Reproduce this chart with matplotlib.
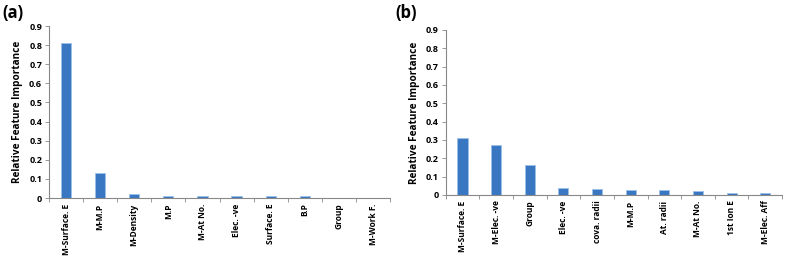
import matplotlib

matplotlib.use("Agg")

import matplotlib.pyplot as plt
import numpy as np

features_a = ["M-Surface. E", "M-M.P", "M-Density", "M.P", "M-At No.",
              "Elec. -ve", "Surface. E", "B.P", "Group", "M-Work F."]
importance_a = [0.81, 0.13, 0.02, 0.01, 0.01, 0.01, 0.01, 0.01, 0.002, 0.002]

features_b = ["M-Surface. E", "M-Elec. -ve", "Group", "Elec. -ve", "cova. radii",
              "M-M.P", "At. radii", "M-At No.", "1st Ion E", "M-Elec. Aff"]
importance_b = [0.31, 0.273, 0.162, 0.04, 0.03, 0.027, 0.027, 0.02, 0.013, 0.01]

yticks = [0, 0.1, 0.2, 0.3, 0.4, 0.5, 0.6, 0.7, 0.8, 0.9]

plt.rcParams["font.family"] = ["Open Sans", "DejaVu Sans"]
plt.rcParams["font.weight"] = "bold"

fig = plt.figure(figsize=(7.86, 2.63), dpi=100)
ax_a = fig.add_axes([0.0623, 0.247, 0.434, 0.654])
ax_b = fig.add_axes([0.567, 0.259, 0.428, 0.627])

for ax, names, vals in [(ax_a, features_a, importance_a),
                        (ax_b, features_b, importance_b)]:
    x = np.arange(len(names))
    ax.bar(x, vals, width=0.3, color="#3a77c2", edgecolor="#9cc0e6", linewidth=0.6)
    ax.set_xlim(-0.5, len(names) - 0.5)
    ax.set_ylim(0, 0.9)
    ax.set_yticks(yticks)
    ax.set_yticklabels(["0"] + [f"{v:.1f}" for v in yticks[1:]], fontsize=6.5, fontweight="bold")
    ax.set_xticks(x)
    ax.set_xticklabels(names, rotation=90, fontsize=6.0, fontweight="bold")
    ax.tick_params(axis="x", length=0, pad=4)
    # small marks between categories, like the original spreadsheet axis
    ax.set_xticks(np.arange(len(names) + 1) - 0.5, minor=True)
    ax.tick_params(axis="x", which="minor", length=3, color="#888888", width=0.6)
    ax.tick_params(axis="y", length=3, color="#888888", width=0.6, pad=2)
    for s in ["top", "right"]:
        ax.spines[s].set_visible(False)
    for s in ["left", "bottom"]:
        ax.spines[s].set_color("#888888")
        ax.spines[s].set_linewidth(0.8)
    ax.set_ylabel("Relative Feature Importance", fontsize=7.2, fontweight="bold", labelpad=4)

fig.text(0.003, 0.985, "(a)", fontsize=12, fontweight="bold", va="top", ha="left")
fig.text(0.503, 0.985, "(b)", fontsize=12, fontweight="bold", va="top", ha="left")

fig.savefig("out.png")
